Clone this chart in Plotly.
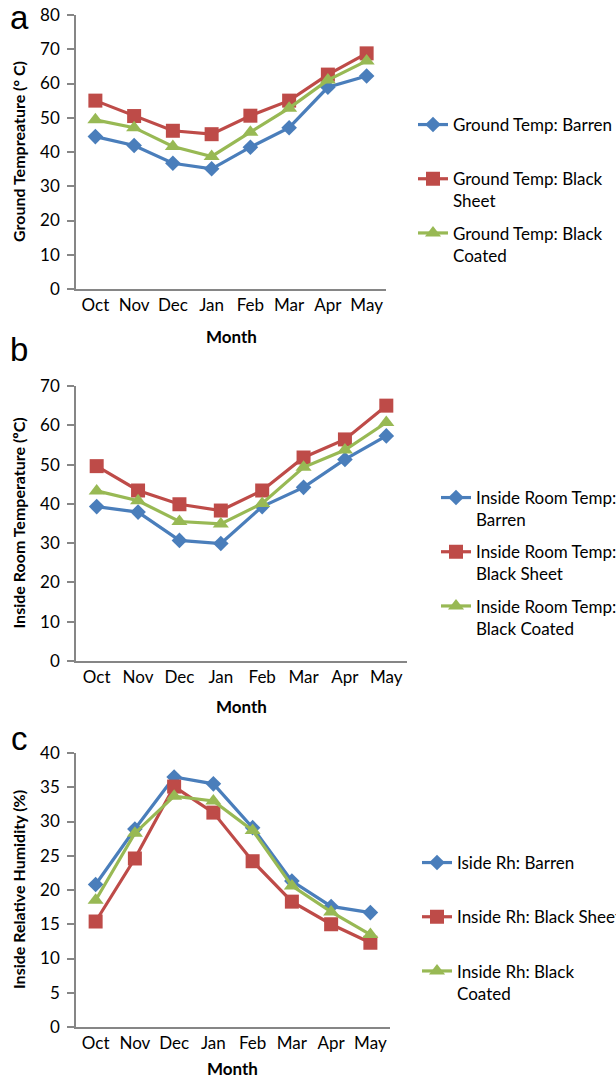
import plotly.graph_objects as go

W, H = 616, 1081

months = ["Oct", "Nov", "Dec", "Jan", "Feb", "Mar", "Apr", "May"]

# Panel a: Ground temperature (°C)
ground_barren = [44.5, 41.9, 36.7, 35.1, 41.4, 47.1, 58.9, 62.2]
ground_sheet = [55.0, 50.5, 46.2, 45.2, 50.6, 55.0, 62.6, 68.8]
ground_coated = [49.4, 47.1, 41.6, 38.7, 45.8, 52.8, 61.0, 66.6]

# Panel b: Inside room temperature (°C)
room_barren = [39.3, 37.9, 30.7, 29.9, 39.3, 44.2, 51.3, 57.3]
room_sheet = [49.6, 43.4, 39.9, 38.3, 43.4, 51.8, 56.4, 65.0]
room_coated = [43.3, 40.8, 35.5, 34.9, 40.1, 49.3, 53.7, 60.7]

# Panel c: Inside relative humidity (%)
rh_barren = [20.8, 28.9, 36.5, 35.5, 29.1, 21.3, 17.6, 16.7]
rh_sheet = [15.4, 24.6, 35.1, 31.3, 24.2, 18.3, 15.0, 12.3]
rh_coated = [18.5, 28.3, 33.7, 33.0, 28.7, 20.6, 16.8, 13.5]

names_a = ["Ground Temp: Barren<br> ", "Ground Temp: Black<br>Sheet", "Ground Temp: Black<br>Coated"]
names_b = ["Inside Room Temp:<br>Barren", "Inside Room Temp:<br>Black Sheet", "Inside Room Temp:<br>Black Coated"]
names_c = ["Iside Rh: Barren<br> ", "Inside Rh: Black Sheet<br> ", "Inside Rh: Black<br>Coated"]

colors = ["#4A7EBB", "#BE4B48", "#98B954"]
symbols = ["diamond", "square", "triangle-up"]
msizes = [12, 14, 14]

FONT = "Lato, 'Open Sans', sans-serif"
AXC = "#868686"

def px_x(p):
    return p / W

def px_y(p):
    return 1 - p / H

fig = go.Figure()

panels = [
    dict(vals=[ground_barren, ground_sheet, ground_coated], names=names_a,
         xd=(76, 386), yd=(15, 289), rng=[0, 80], dt=10,
         ytitle="Ground Tempreature (° C)", legend="legend",
         lx=413, ly=107, letter="a", letter_y=17, month_y=336),
    dict(vals=[room_barren, room_sheet, room_coated], names=names_b,
         xd=(76, 407), yd=(386, 661), rng=[0, 70], dt=10,
         ytitle="Inside Room Temperature (ºC)", legend="legend2",
         lx=436, ly=480, letter="b", letter_y=349, month_y=706),
    dict(vals=[rh_barren, rh_sheet, rh_coated], names=names_c,
         xd=(76, 390), yd=(753, 1027), rng=[0, 40], dt=5,
         ytitle="Inside Relative Humidity (%)", legend="legend3",
         lx=417, ly=845, letter="c", letter_y=738, month_y=1068),
]

for i, p in enumerate(panels):
    sfx = "" if i == 0 else str(i + 1)
    for j in range(3):
        fig.add_trace(go.Scatter(
            x=months, y=p["vals"][j], name=p["names"][j],
            mode="lines+markers",
            line=dict(color=colors[j], width=3.2),
            marker=dict(symbol=symbols[j], size=msizes[j], color=colors[j]),
            xaxis="x" + sfx, yaxis="y" + sfx,
            legend=p["legend"], legendgroup=f"g{i}{j}",
        ))
    xa = dict(
        domain=[px_x(p["xd"][0]), px_x(p["xd"][1])],
        anchor="y" + sfx, type="category", range=[-0.5, 7.5],
        showline=True, linecolor=AXC, linewidth=1.5, ticks="",
        showgrid=False, zeroline=False,
        tickfont=dict(family=FONT, size=17, color="#000"),
        fixedrange=True,
    )
    ya = dict(
        domain=[px_y(p["yd"][1]), px_y(p["yd"][0])],
        anchor="x" + sfx, range=p["rng"], dtick=p["dt"], tick0=0,
        showline=True, linecolor=AXC, linewidth=1.5,
        ticks="outside", ticklen=7, tickcolor=AXC, tickwidth=1.5,
        showgrid=False, zeroline=False,
        tickfont=dict(family=FONT, size=17, color="#000"),
        ticklabelstandoff=4,
        fixedrange=True,
    )
    fig.update_layout(**{"xaxis" + sfx: xa, "yaxis" + sfx: ya})
    fig.update_layout(**{p["legend"]: dict(
        x=px_x(p["lx"]), y=px_y(p["ly"]), xanchor="left", yanchor="top",
        font=dict(family=FONT, size=17, color="#000"),
        bgcolor="rgba(0,0,0,0)", borderwidth=0, valign="top",
        tracegroupgap=7, itemclick=False, itemdoubleclick=False,
    )})
    fig.add_annotation(text="<b>Month</b>", x=(p["xd"][0] + p["xd"][1]) / 2 / W, y=px_y(p["month_y"]),
                       xref="paper", yref="paper", showarrow=False,
                       font=dict(family=FONT, size=17, color="#000"), xanchor="center", yanchor="middle")
    fig.add_annotation(text="<b>" + p["ytitle"] + "</b>", x=px_x(18), y=px_y((p["yd"][0] + p["yd"][1]) / 2),
                       xref="paper", yref="paper", showarrow=False, textangle=-90,
                       font=dict(family=FONT, size=16, color="#000"), xanchor="center", yanchor="middle")
    fig.add_annotation(text=p["letter"], x=px_x(19), y=px_y(p["letter_y"]),
                       xref="paper", yref="paper", showarrow=False,
                       font=dict(family="Liberation Sans, Arial, sans-serif", size=33, color="#000"),
                       xanchor="center", yanchor="middle")

fig.update_layout(
    width=W, height=H,
    margin=dict(l=0, r=0, t=0, b=0, autoexpand=False),
    paper_bgcolor="white", plot_bgcolor="white",
    showlegend=True,
)

fig.write_html("out.html", config={"displayModeBar": False},
               post_script="document.body.style.margin='0px';document.body.style.padding='0px';")
